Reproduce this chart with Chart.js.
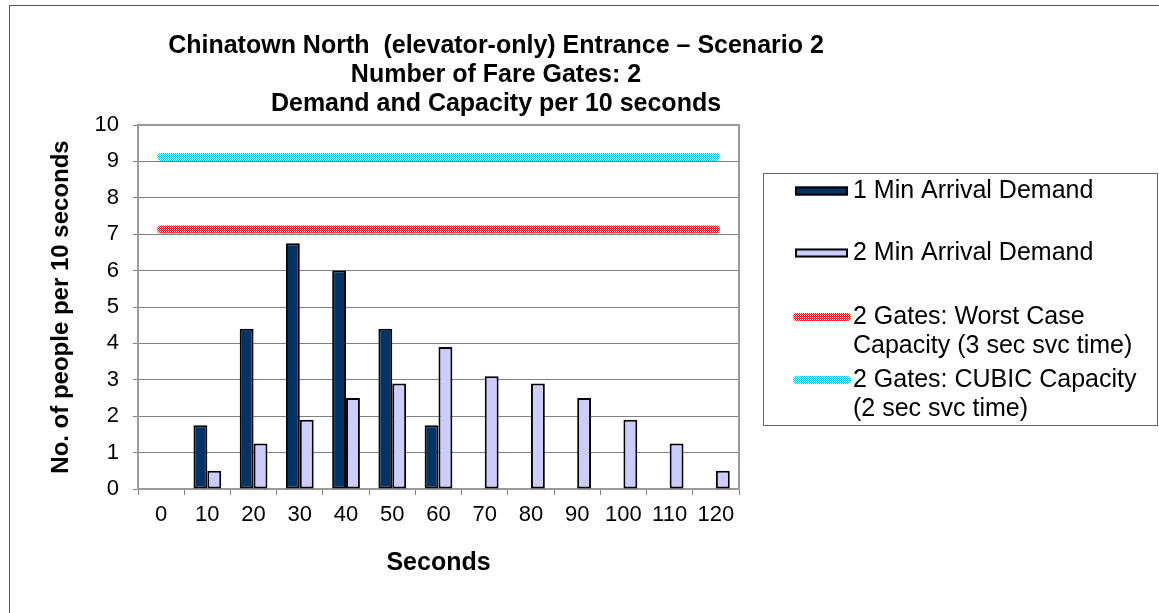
<!DOCTYPE html>
<html>
<head>
<meta charset="utf-8">
<script src="https://cdn.jsdelivr.net/npm/chart.js@4/dist/chart.umd.min.js"></script>
<style>
  html, body { margin: 0; padding: 0; background: #ffffff; }
  #wrap { position: absolute; left: 0; top: 0; width: 1159px; height: 613px; }
</style>
</head>
<body>
<div id="wrap"><canvas id="c" width="1159" height="613"></canvas></div>
<script>
// ---- data ----
const categories = ['0', '10', '20', '30', '40', '50', '60', '70', '80', '90', '100', '110', '120'];
const demand1Min = [null, 1.75, 4.4, 6.75, 6.0, 4.4, 1.75, null, null, null, null, null, null];
const demand2Min = [null, 0.5, 1.25, 1.9, 2.5, 2.9, 3.9, 3.1, 2.9, 2.5, 1.9, 1.25, 0.5];
const worstCaseCapacity = [7.13, 7.13, 7.13, 7.13, 7.13, 7.13, 7.13, 7.13, 7.13, 7.13, 7.13, 7.13, 7.13];
const cubicCapacity = [9.12, 9.12, 9.12, 9.12, 9.12, 9.12, 9.12, 9.12, 9.12, 9.12, 9.12, 9.12, 9.12];
const seriesLabels = ['1 Min Arrival Demand', '2 Min Arrival Demand',
  '2 Gates: Worst Case Capacity (3 sec svc time)', '2 Gates: CUBIC Capacity (2 sec svc time)'];
const legendLines = [
  ['1 Min Arrival Demand'],
  ['2 Min Arrival Demand'],
  ['2 Gates: Worst Case', 'Capacity (3 sec svc time)'],
  ['2 Gates: CUBIC Capacity', '(2 sec svc time)']
];
const titleLines = ['Chinatown North  (elevator-only) Entrance \u2013 Scenario 2',
  'Number of Fare Gates: 2', 'Demand and Capacity per 10 seconds'];
const xAxisTitle = 'Seconds';
const yAxisTitle = 'No. of people per 10 seconds';

// ---- styling ----
const FONT = "'Liberation Sans', Arial, sans-serif";
const canvas = document.getElementById('c');
const ctx0 = canvas.getContext('2d');
function makePattern(c1, c2) {
  const cv = document.createElement('canvas');
  cv.width = 2; cv.height = 2;
  const x = cv.getContext('2d');
  x.fillStyle = c2; x.fillRect(0, 0, 2, 2);
  x.fillStyle = c1; x.fillRect(0, 0, 1, 1); x.fillRect(1, 1, 1, 1);
  return ctx0.createPattern(cv, 'repeat');
}
const redPattern = makePattern('#ff0000', '#ffe0e0');
const cyanPattern = makePattern('#00ccff', '#d9f5ff');

const bgPlugin = {
  id: 'bg',
  beforeDraw(chart) {
    const c = chart.ctx;
    c.save();
    c.fillStyle = '#ffffff';
    c.fillRect(0, 0, chart.width, chart.height);
    c.strokeStyle = '#555555';
    c.lineWidth = 1;
    c.strokeRect(9.5, 5.5, chart.width + 20, chart.height + 20);
    c.restore();
  },
  beforeDatasetsDraw(chart) {
    const a = chart.chartArea, c = chart.ctx;
    c.save();
    c.strokeStyle = '#9a9a9a';
    c.lineWidth = 2;
    c.strokeRect(a.left, a.top, a.right - a.left, a.bottom - a.top);
    c.restore();
  }
};

const decorPlugin = {
  id: 'decor',
  afterDraw(chart) {
    const c = chart.ctx;
    c.save();
    // main title
    c.fillStyle = '#000000';
    c.font = 'bold 25px ' + FONT;
    c.textAlign = 'center';
    c.textBaseline = 'middle';
    const ty = [46, 75.5, 104.5];
    titleLines.forEach((t, i) => c.fillText(t, 496, ty[i]));

    // legend box
    c.strokeStyle = '#666666';
    c.lineWidth = 1;
    c.strokeRect(763.5, 173.5, 394, 252);
    const ds = chart.data.datasets;
    const lineY = [[191], [253], [317, 346], [380, 409]];
    c.font = '25px ' + FONT;
    c.textAlign = 'left';
    c.textBaseline = 'middle';
    ds.forEach((d, i) => {
      const y0 = lineY[i][0];
      if (d.type === 'line') {
        c.strokeStyle = d.borderColor;
        c.lineWidth = 8;
        c.lineCap = 'round';
        c.beginPath();
        c.moveTo(797, y0);
        c.lineTo(847, y0);
        c.stroke();
      } else {
        c.fillStyle = d.backgroundColor;
        c.fillRect(795, y0 - 4.5, 53, 9);
        c.strokeStyle = '#000000';
        c.lineWidth = 2;
        c.strokeRect(796, y0 - 3.5, 51, 7);
      }
      c.fillStyle = '#000000';
      legendLines[i].forEach((t, k) => c.fillText(t, 853, lineY[i][k]));
    });
    c.restore();
  }
};

new Chart(canvas, {
  type: 'bar',
  data: {
    labels: categories,
    datasets: [
      {
        type: 'bar', label: seriesLabels[0], data: demand1Min,
        backgroundColor: '#003366', borderColor: '#000000', borderWidth: 2,
        borderSkipped: false, categoryPercentage: 0.6, barPercentage: 1.0
      },
      {
        type: 'bar', label: seriesLabels[1], data: demand2Min,
        backgroundColor: '#ccccff', borderColor: '#000000', borderWidth: 2,
        borderSkipped: false, categoryPercentage: 0.6, barPercentage: 1.0
      },
      {
        type: 'line', label: seriesLabels[2], data: worstCaseCapacity,
        borderColor: redPattern, backgroundColor: redPattern, borderWidth: 8,
        borderCapStyle: 'round', pointRadius: 0, fill: false, tension: 0
      },
      {
        type: 'line', label: seriesLabels[3], data: cubicCapacity,
        borderColor: cyanPattern, backgroundColor: cyanPattern, borderWidth: 8,
        borderCapStyle: 'round', pointRadius: 0, fill: false, tension: 0
      }
    ]
  },
  options: {
    responsive: false,
    animation: false,
    devicePixelRatio: 1,
    layout: { padding: { left: 10, top: 125, right: 420, bottom: 0 } },
    plugins: {
      legend: { display: false },
      title: { display: false },
      tooltip: { enabled: false }
    },
    scales: {
      x: {
        offset: true,
        grid: { display: true, drawOnChartArea: false, drawTicks: true, tickLength: 6, color: '#808080', offset: true },
        border: { display: true, color: '#555555', width: 2 },
        ticks: { color: '#000000', font: { family: FONT, size: 22 }, padding: 7, maxRotation: 0, autoSkip: false },
        title: { display: true, text: xAxisTitle, color: '#000000', font: { family: FONT, size: 25, weight: 'bold' }, padding: { top: 0, bottom: 35 } },
        afterFit(s) { s.height = 124; }
      },
      y: {
        min: 0, max: 10,
        grid: { color: '#808080', lineWidth: 1, drawTicks: true, tickLength: 5 },
        border: { display: true, color: '#555555', width: 2 },
        ticks: { stepSize: 1, color: '#000000', font: { family: FONT, size: 22 }, padding: 14 },
        title: { display: true, text: yAxisTitle, color: '#000000', font: { family: FONT, size: 24, weight: 'bold' }, padding: { top: 37, bottom: 0 } },
        afterFit(s) { s.width = 128; }
      }
    }
  },
  plugins: [bgPlugin, decorPlugin]
});
</script>
</body>
</html>
